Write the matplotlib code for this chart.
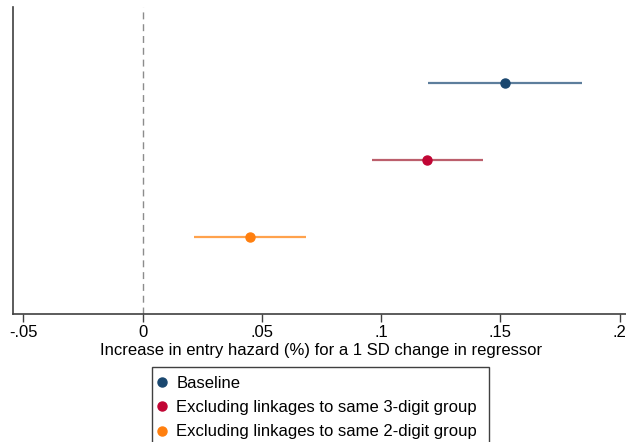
import matplotlib.pyplot as plt
from matplotlib.lines import Line2D
from matplotlib.patches import Rectangle

plt.rcParams['font.family'] = ['Liberation Sans', 'DejaVu Sans']

labels = ['Baseline',
          'Excluding linkages to same 3-digit group',
          'Excluding linkages to same 2-digit group']
estimates = [0.1518, 0.1193, 0.045]
ci_low = [0.1196, 0.0962, 0.0216]
ci_high = [0.1843, 0.1428, 0.0685]
rows = [3, 2, 1]
colors = ['#1a476f', '#c10534', '#ff7f0e']
ci_colors = ['#5d7e9c', '#bc5f6c', '#ffa24c']

xticks = [-0.05, 0, 0.05, 0.1, 0.15, 0.2]
xticklabels = ['-.05', '0', '.05', '.1', '.15', '.2']


def main():
    fig = plt.figure(figsize=(6.26, 4.42), dpi=100)
    ax = fig.add_axes([0.02, 0.29, 0.985, 0.695])

    ax.axvline(0, color='#8c8c8c', lw=1, dashes=(5, 3.5), zorder=1)

    handles = []
    for est, lo, hi, y, c, cc, lab in zip(estimates, ci_low, ci_high, rows, colors, ci_colors, labels):
        ax.plot([lo, hi], [y, y], color=cc, lw=1.6, solid_capstyle='butt', zorder=2)
        ax.plot(est, y, 'o', color=c, ms=6.5, zorder=3)
        handles.append(Line2D([], [], marker='o', ls='none', color=c, ms=6.5, label=lab))

    ax.set_xlim(-0.0545, 0.204)
    ax.set_ylim(0, 4)
    ax.set_yticks([])
    ax.set_xticks(xticks)
    ax.set_xticklabels(xticklabels, fontsize=12)
    ax.tick_params(axis='x', length=6, width=1, color='#404040', pad=2)
    for side in ['top', 'right']:
        ax.spines[side].set_visible(False)
    for side in ['left', 'bottom']:
        ax.spines[side].set_color('#404040')
        ax.spines[side].set_linewidth(1.2)
    ax.set_xlabel('Increase in entry hazard (%) for a 1 SD change in regressor', fontsize=12, labelpad=2.5)

    # legend box runs off the bottom of the figure
    fig.patches.append(Rectangle((152 / 626, -0.1), 337 / 626, 0.1 + 1 - 367 / 442,
                                 transform=fig.transFigure, fill=False,
                                 edgecolor='#404040', lw=1))
    fig.legend(handles=handles, loc='upper left', bbox_to_anchor=(157 / 626, 1 - 376 / 442),
               fontsize=12, frameon=False, handlelength=0.6, handletextpad=0.55,
               labelspacing=0.55, borderpad=0, borderaxespad=0)

    fig.savefig('out.png', dpi=100)


if __name__ == "__main__":
    main()
